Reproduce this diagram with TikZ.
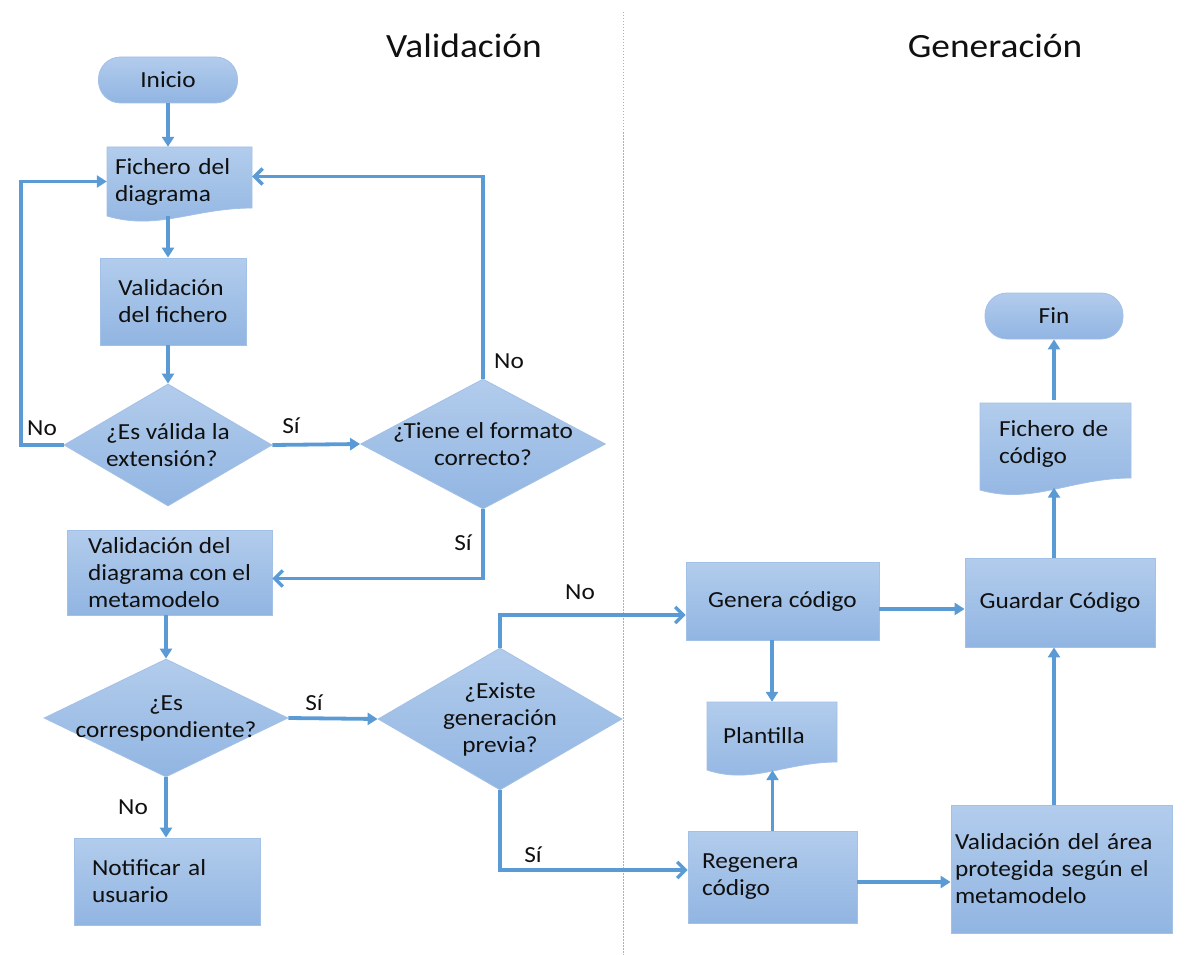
\documentclass[tikz,border=0pt]{standalone}
\usepackage{fontspec}
\setmainfont{Carlito}[FakeStretch=1.1]
\usetikzlibrary{arrows.meta,shapes.geometric}

\definecolor{flowtop}{HTML}{B2CCEC}
\definecolor{flowbot}{HTML}{91B5E2}
\definecolor{flowedge}{HTML}{A3C0E6}
\definecolor{link}{HTML}{5B9BD5}
\definecolor{ink}{HTML}{101010}
\definecolor{lane}{HTML}{8DB8E2}

% document symbol: left, top, right, bottom at left end, bottom at right end
\newcommand\docwave[5]{%
  \path[fillshade] (#1,#2) -- (#3,#2) -- (#3,#5)
    .. controls ({#1+0.6*(#3-#1)},#5) and ({#1+0.35*(#3-#1)},{#4+15}) .. (#1,#4) -- cycle;}

\begin{document}
\begin{tikzpicture}[x=1pt,y=-1pt,
  every node/.style={font=\fontsize{23}{27}\selectfont, text=ink},
  fillshade/.style={top color=flowtop, bottom color=flowbot, draw=flowedge, line width=0.8pt},
  procbox/.style={fillshade, rectangle, align=left, inner sep=0pt},
  termbox/.style={fillshade, rectangle, rounded corners=22pt, inner sep=0pt},
  decbox/.style={fillshade, diamond, inner sep=0pt},
  docframe/.style={rectangle, align=left, inner ysep=0pt},
  flow/.style={draw=link, line width=3.8pt},
  arr/.style={flow, -{Triangle[width=12pt,length=10pt]}},
  barb/.style={flow, -{Straight Barb[width=16pt,length=8pt,line width=3.4pt]}},
  tag/.style={inner sep=0pt, anchor=base},
  heading/.style={font=\fontsize{34}{40}\selectfont, inner sep=0pt, anchor=base}
]
\useasboundingbox (0,0) rectangle (1194,955);

% swim-lane divider
\draw[lane, line width=0.8pt, dash pattern=on 1.5pt off 1.5pt] (623,12) -- (623,955);

% lane titles
\node[heading] (tval) at (464,58) {Validación};
\node[heading] (tgen) at (995,58) {Generación};

% document-shaped backgrounds
\docwave{107}{147}{252}{216}{208}
\docwave{707}{702}{837}{770}{762}
\docwave{980}{403}{1131}{490}{478}

% terminals
\node[termbox, minimum width=139pt, minimum height=46pt] (start) at (168,80) {Inicio};
\node[termbox, minimum width=138pt, minimum height=46pt] (fin) at (1054,316) {Fin};

% documents (text frames over the shapes above)
\node[docframe, minimum width=145pt, minimum height=69pt, text width=129pt, inner xsep=8pt]
  (docA) at (179.5,181.5) {Fichero del\\diagrama};
\node[docframe, minimum width=130pt, minimum height=68pt, text width=98pt, inner xsep=16pt]
  (plant) at (772,736) {Plantilla};
\node[docframe, minimum width=151pt, minimum height=87pt, text width=113pt, inner xsep=19pt]
  (fcode) at (1055.5,444) {Fichero de\\código};

% processes
\node[procbox, minimum width=146pt, minimum height=87pt] (valF) at (173,301.5) {Validación\\del fichero};
\node[procbox, minimum width=205pt, minimum height=85pt] (valD) at (169.5,572.5) {Validación del\\diagrama con el\\metamodelo};
\node[procbox, minimum width=186pt, minimum height=87pt, text width=150pt, inner xsep=18pt] (notif) at (167,881.5) {Notificar al\\usuario};
\node[procbox, minimum width=193pt, minimum height=78pt] (gen) at (782.5,601) {Genera código};
\node[procbox, minimum width=169pt, minimum height=92pt, text width=141pt, inner xsep=14pt] (regen) at (772.5,877) {Regenera\\código};
\node[procbox, minimum width=221pt, minimum height=128pt, text width=213pt, inner xsep=4pt] (valA) at (1061.5,869) {Validación del área\\protegida según el\\metamodelo};
\node[procbox, minimum width=190pt, minimum height=89pt] (guard) at (1060,602.5) {Guardar Código};

% decisions
\node[decbox, minimum width=208pt, minimum height=122pt] (d1) at (168,445) {};
\node[align=left] at (d1) {¿Es válida la\\extensión?};
\node[decbox, minimum width=245pt, minimum height=130pt] (d2) at (483,444) {};
\node[align=center] at (d2) {¿Tiene el formato\\correcto?};
\node[decbox, minimum width=244pt, minimum height=118pt] (d3) at (166,718) {};
\node[align=center] at (d3) {¿Es\\correspondiente?};
\node[decbox, minimum width=244pt, minimum height=142pt] (d4) at (500,719) {};
\node[align=center] at (d4) {¿Existe\\generación\\previa?};

% loop-back column on the far left
\coordinate (loopL) at (21,0);

% validation flow
\draw[arr] (start.south) -- (start.south |- docA.north);
\draw[arr] (docA.south -| start) -- (valF.north -| start);
\draw[arr] (valF.south -| start) -- (d1.north);
\draw[arr] (d1.west) -- (d1.west -| loopL) |- (docA.west);
\draw[arr] (d1.east) -- (d2.west);
\draw[barb] (d2.north) |- ([yshift=5pt]docA.east);
\draw[barb] (d2.south) |- ([yshift=-6pt]valD.east);
\draw[arr] (valD.south -| d3.north) -- (d3.north);
\draw[arr] (d3.east) -- (d4.west);
\draw[arr] (d3.south) -- (d3.south |- notif.north);

% generation flow
\draw[barb] (d4.north) |- ([yshift=-14pt]gen.west);
\draw[barb] (d4.south) |- ([yshift=7pt]regen.west);
\draw[arr] (gen.south -| plant.north) -- (plant.north);
\draw[arr] (regen.north) -- (regen.north |- plant.south);
\draw[arr] ([yshift=-8pt]gen.east) -- ([yshift=-8pt]gen.east -| guard.west);
\draw[arr] ([yshift=-5pt]regen.east) -- ([yshift=-5pt]regen.east -| valA.west);
\draw[arr] (valA.north -| fin) -- (guard.south -| fin);
\draw[arr] (guard.north -| fin) -- (fcode.south -| fin);
\draw[arr] (fcode.north -| fin) -- (fin.south);

% branch labels
\node[tag] (n1) at (42,435) {No};
\node[tag] (s1) at (291,433) {Sí};
\node[tag] (n2) at (509,368) {No};
\node[tag] (s2) at (463,550) {Sí};
\node[tag] (s3) at (314,710) {Sí};
\node[tag] (n3) at (133,814) {No};
\node[tag] (n4) at (580,599) {No};
\node[tag] (s4) at (533,862) {Sí};
\end{tikzpicture}
\end{document}
